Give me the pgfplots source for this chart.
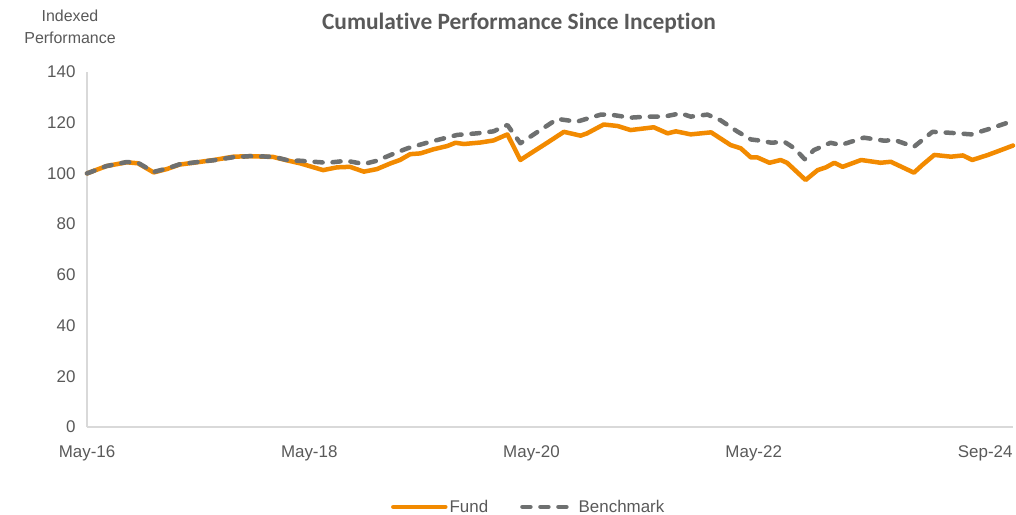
\documentclass[border=0pt]{standalone}
\usepackage{fontspec}
\setmainfont{Liberation Sans}
\newfontfamily\titlefont[Ligatures=NoCommon]{Carlito}
\usepackage{pgfplots}
\pgfplotsset{compat=1.18}
\definecolor{fundc}{HTML}{F28A00}
\definecolor{benchc}{HTML}{6E7070}
\definecolor{txtc}{HTML}{595959}
\definecolor{axc}{HTML}{D9D9D9}
\begin{document}
\begin{tikzpicture}
\begin{axis}[
  scale only axis,
  width=926bp, height=355bp,
  at={(0,0)}, anchor=south west,
  xmin=0, xmax=100, ymin=0, ymax=140,
  axis lines*=left,
  axis line style={axc, line width=1.2bp},
  xtick={0,24,48,72},
  xticklabels={May-16,May-18,May-20,May-22},
  extra x ticks={100},
  extra x tick labels={Sep-24},
  extra x tick style={xticklabel style={anchor=north east, xshift=3bp}},
  ytick={0,20,...,140},
  major tick length=0pt,
  tick style={draw=none},
  /pgf/number format/assume math mode=true,
  ticklabel style={font=\fontsize{17}{20}\selectfont, text=txtc},
  xticklabel style={yshift=-15bp},
  yticklabel style={xshift=-8bp},
  clip=false,
  legend style={at={(0.477,-0.225)}, anchor=center, draw=none, fill=none,
    font=\fontsize{17}{20}\selectfont, text=txtc, legend columns=2,
    /tikz/every even column/.append style={column sep=30bp}},
  legend image code/.code={\draw[#1] (0bp,0bp) -- (52bp,0bp);},
]
\addplot[fundc, line width=4.5bp, line join=round, line cap=round] coordinates {
(0,100) (2.1,102.9) (4.3,104.4) (5.5,104) (7.2,100.4) (8.6,101.7) (10,103.5)
(11.5,104.2) (13.7,105.3) (15.8,106.6) (17.6,106.8) (20.1,106.5) (21.9,104.9)
(23,104) (25.5,101.3) (27,102.4) (28.4,102.6) (29.9,100.7) (31.3,101.7)
(32.8,104) (33.8,105.3) (34.9,107.6) (36,107.9) (37.4,109.5) (38.9,110.8)
(39.8,112.1) (40.7,111.6) (42.5,112.2) (43.9,113.0) (45.4,115.4) (46.8,105.3)
(47.9,107.9) (49.7,112.1) (51.5,116.4) (53.3,114.9) (54,115.8) (55.8,119.3)
(57.3,118.7) (58.7,117.1) (61.2,118.2) (62.7,115.8) (63.6,116.6) (65.2,115.4)
(67.4,116.2) (69.5,111.2) (70.6,109.9) (71.7,106.3) (72.4,106.3) (73.7,104.2)
(74.9,105.3) (75.6,104.2) (77.6,97.4) (78.9,101.3) (79.8,102.4) (80.7,104.2)
(81.6,102.6) (83.6,105.3) (85.7,104.2) (86.8,104.6) (89.3,100.3) (90.2,103.3)
(91.5,107.3) (93.3,106.6) (94.6,107.1) (95.6,105.3) (97.3,107.3) (98.7,109.2)
(100,111)
};
\addlegendentry{Fund}
\addplot[benchc, line width=4.5bp, line join=round, line cap=round, dash pattern=on 8bp off 10bp] coordinates {
(0,100) (2.1,102.9) (4.3,104.5) (5.5,104.2) (7.2,100.6) (8.6,101.9) (10,103.6)
(11.5,104.3) (13.7,105.2) (15.8,106.4) (17.6,106.8) (20.1,106.6) (21.9,105)
(23,105) (24.5,104.6) (26,104.2) (28,105) (29.9,103.7) (31.3,105) (32.8,107.3)
(34.6,109.9) (36.7,112.1) (38.5,113.8) (40,115.2) (42.1,115.8) (43.9,116.6)
(45.4,119.1) (46.8,111.9) (49,117.2) (50.8,121.5) (52.9,120.4) (55.5,123.2)
(56.5,123.2) (58.7,122) (60.5,122.4) (62.3,122.4) (64.1,123.7) (65.2,122.4)
(67,123.2) (68.4,121) (70.2,116.6) (71.7,113.4) (72.8,112.9) (73.9,112.1)
(75.3,112.5) (76.4,109.9) (77.5,105.6) (78.5,109.2) (80.3,112.1) (81.4,111.2)
(83.9,114.1) (86.1,112.9) (87.2,113.2) (89.3,110.5) (91.3,116.4) (93.3,116)
(95.5,115.4) (97.3,117.4) (99.5,120.1) (100,121)
};
\addlegendentry{Benchmark}
\end{axis}
\node[font=\titlefont\bfseries\fontsize{23.5}{26}\selectfont, text=txtc] at (432bp,404bp) {Cumulative Performance Since Inception};
\node[font=\fontsize{16}{22}\selectfont, text=txtc, align=center] at (-17bp,400bp) {Indexed\\Performance};
\pgfresetboundingbox
\path[use as bounding box] (-87bp,-88bp) rectangle (929bp,427bp);
\end{tikzpicture}
\end{document}
